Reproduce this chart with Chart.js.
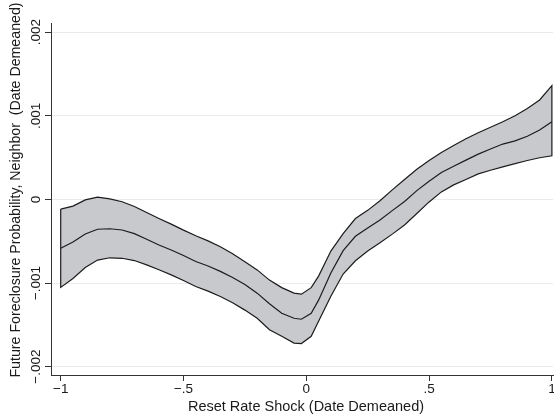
<!DOCTYPE html>
<html>
<head>
<meta charset="utf-8">
<script src="https://cdn.jsdelivr.net/npm/chart.js@4.4.1/dist/chart.umd.min.js"></script>
<style>
  html, body { margin: 0; padding: 0; background: #ffffff; }
  #wrap { width: 554px; height: 417px; position: relative; }
</style>
</head>
<body>
<div id="wrap"><canvas id="c" width="554" height="417"></canvas></div>
<script>
// ---- data (values in units of 0.001) ----
const xs = [-1, -0.95, -0.9, -0.85, -0.8, -0.75, -0.7, -0.65, -0.6, -0.55, -0.5, -0.45, -0.4, -0.35, -0.3, -0.25, -0.2, -0.15, -0.1, -0.05, -0.02,
            0.02, 0.05, 0.1, 0.15, 0.2, 0.25, 0.3, 0.35, 0.4, 0.45, 0.5, 0.55, 0.6, 0.65, 0.7, 0.75, 0.8, 0.85, 0.9, 0.95, 1];
const midVals = [-0.585, -0.510, -0.414, -0.357, -0.351, -0.366, -0.409, -0.476, -0.545, -0.605, -0.670, -0.742, -0.797, -0.861, -0.933, -1.018, -1.121, -1.248, -1.361, -1.421, -1.433,
                 -1.361, -1.205, -0.881, -0.612, -0.441, -0.342, -0.246, -0.134, -0.025, 0.105, 0.218, 0.322, 0.397, 0.470, 0.542, 0.603, 0.662, 0.701, 0.755, 0.831, 0.929];
const hiVals = [-0.116, -0.080, -0.006, 0.028, 0.007, -0.028, -0.084, -0.157, -0.228, -0.296, -0.367, -0.434, -0.496, -0.567, -0.651, -0.745, -0.843, -0.965, -1.055, -1.121, -1.133,
                -1.055, -0.917, -0.618, -0.409, -0.229, -0.131, -0.016, 0.114, 0.239, 0.361, 0.466, 0.562, 0.645, 0.725, 0.797, 0.863, 0.929, 1.001, 1.088, 1.189, 1.361];
const loVals = [-1.052, -0.946, -0.815, -0.725, -0.698, -0.704, -0.731, -0.783, -0.842, -0.902, -0.969, -1.042, -1.097, -1.162, -1.236, -1.324, -1.422, -1.559, -1.637, -1.718, -1.724,
                -1.637, -1.457, -1.157, -0.893, -0.734, -0.618, -0.519, -0.415, -0.306, -0.168, -0.030, 0.090, 0.174, 0.239, 0.306, 0.349, 0.390, 0.429, 0.465, 0.498, 0.522];
const xTickVals = [-1, -0.5, 0, 0.5, 1];
const xTickLabels = ["\u22121", "\u2212.5", "0", ".5", "1"];
const yTickVals = [-0.002, -0.001, 0, 0.001, 0.002];
const yTickLabels = ["\u2212.002", "\u2212.001", "0", ".001", ".002"];
const xTitle = "Reset Rate Shock (Date Demeaned)";
const yTitle = "Future Foreclosure Probability, Neighbor  (Date Demeaned)";

// ---- build datasets ----
const S = 0.001;
const midPts = xs.map((x, i) => ({x: x, y: midVals[i] * S}));
const bandPts = xs.map((x, i) => ({x: x, y: hiVals[i] * S}));
for (let i = xs.length - 1; i >= 0; i--) bandPts.push({x: xs[i], y: loVals[i] * S});
bandPts.push({x: xs[0], y: hiVals[0] * S});

const FONT = '"Liberation Sans", Arial, Helvetica, sans-serif';
const TXT = '#1a1a1a';

const textPlugin = {
  id: 'textPlugin',
  afterDraw(chart) {
    const ctx = chart.ctx;
    const ys = chart.scales.y;
    ctx.save();
    ctx.fillStyle = TXT;
    ctx.textAlign = 'center';
    ctx.textBaseline = 'middle';
    ctx.font = '13.5px ' + FONT;
    yTickVals.forEach((v, i) => {
      const py = ys.getPixelForValue(v);
      ctx.save();
      ctx.translate(36, py);
      ctx.rotate(-Math.PI / 2);
      ctx.fillText(yTickLabels[i], 0, 0);
      ctx.restore();
    });
    // y title
    ctx.save();
    ctx.font = '14.2px ' + FONT;
    ctx.translate(16, 190);
    ctx.rotate(-Math.PI / 2);
    ctx.fillText(yTitle, 0, 0);
    ctx.restore();
    // x title
    ctx.font = '14.5px ' + FONT;
    ctx.fillText(xTitle, 306, 407);
    ctx.restore();
  }
};

new Chart(document.getElementById('c'), {
  type: 'line',
  data: {
    datasets: [
      {
        data: midPts,
        order: 1,
        fill: false,
        borderColor: '#1c1c1c',
        borderWidth: 1.2,
        pointRadius: 0,
        tension: 0
      },
      {
        data: bandPts,
        order: 2,
        fill: 'shape',
        backgroundColor: 'rgb(200,201,204)',
        borderColor: '#1c1c1c',
        borderWidth: 1.2,
        pointRadius: 0,
        tension: 0
      }
    ]
  },
  options: {
    responsive: false,
    animation: false,
    devicePixelRatio: 1,
    layout: { padding: { top: 23, right: 1, left: 0, bottom: 0 } },
    plugins: { legend: { display: false }, tooltip: { enabled: false } },
    scales: {
      x: {
        type: 'linear',
        min: -1.0395,
        max: 1.0045,
        afterBuildTicks: (s) => { s.ticks = xTickVals.map(v => ({value: v})); },
        afterFit: (s) => { s.height = 42; s.paddingLeft = 0; s.paddingRight = 0; },
        grid: { drawOnChartArea: false, drawTicks: true, tickLength: 6, tickColor: '#333', tickWidth: 1 },
        border: { display: true, color: '#333', width: 1 },
        ticks: {
          padding: 0,
          autoSkip: false,
          maxRotation: 0,
          color: TXT,
          font: { family: FONT, size: 13.5 },
          callback: (v) => { const i = xTickVals.indexOf(v); return i >= 0 ? xTickLabels[i] : ''; }
        }
      },
      y: {
        type: 'linear',
        min: -0.0021,
        max: 0.00211,
        afterBuildTicks: (s) => { s.ticks = yTickVals.map(v => ({value: v})); },
        afterFit: (s) => { s.width = 51; s.paddingTop = 0; s.paddingBottom = 0; },
        grid: { drawOnChartArea: true, color: '#ebebeb', lineWidth: 1, drawTicks: true, tickLength: 6, tickColor: '#333', tickWidth: 1 },
        border: { display: true, color: '#333', width: 1 },
        ticks: { display: false }
      }
    }
  },
  plugins: [textPlugin]
});
</script>
</body>
</html>
